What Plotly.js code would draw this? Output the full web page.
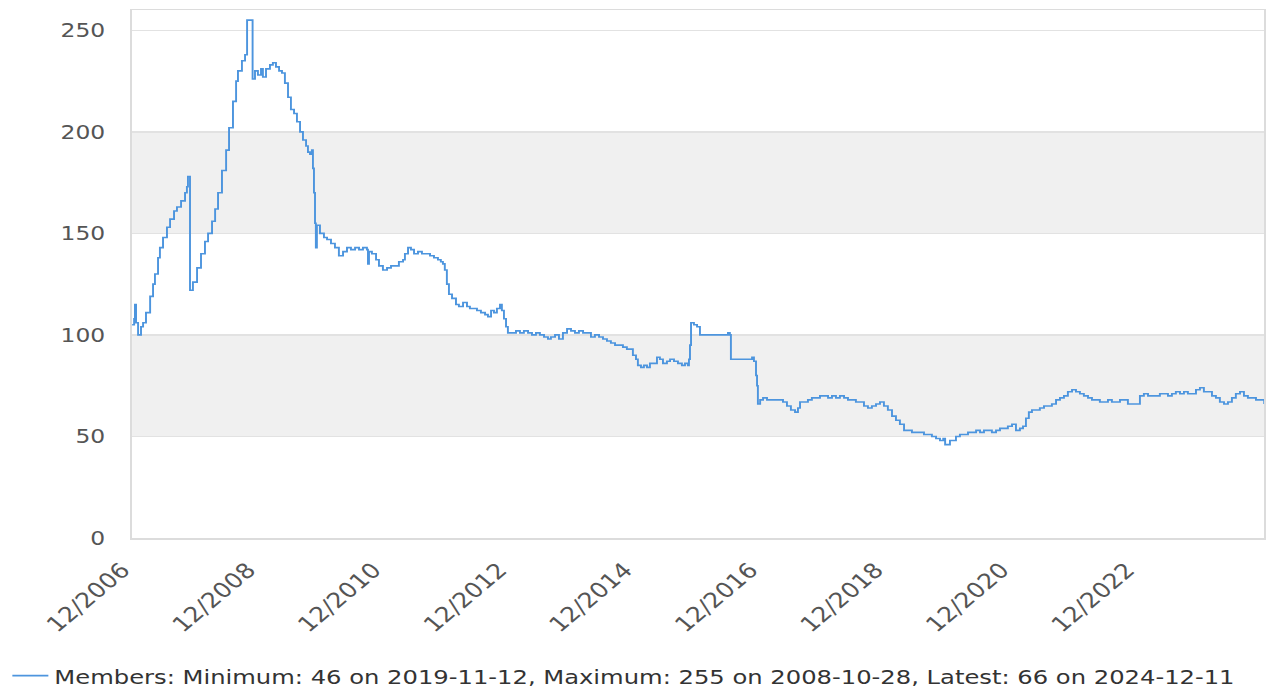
<!DOCTYPE html>
<html>
<head>
<meta charset="utf-8">
<script src="https://cdn.plot.ly/plotly-3.0.1.min.js"></script>
<style>
  html, body { margin: 0; padding: 0; background: #fff; overflow: hidden; }
  #chart { width: 1057px; height: 687px; transform: scaleX(1.2006); transform-origin: 0 0; }
</style>
</head>
<body>
<div id="chart"></div>
<script>
// Member counts
const dates = [
'2006-12-01','2006-12-13','2006-12-18','2006-12-24','2007-01-05','2007-01-10','2007-01-22','2007-02-03','2007-02-20','2007-03-16',
'2007-04-02','2007-04-13','2007-05-01','2007-05-12','2007-05-30','2007-06-22','2007-07-10','2007-08-02','2007-08-19','2007-09-12',
'2007-10-05','2007-10-16','2007-10-22','2007-10-28','2007-11-03','2007-11-20','2007-12-14','2008-01-06','2008-01-29','2008-02-16',
'2008-03-10','2008-03-28','2008-04-14','2008-05-07','2008-05-31','2008-06-17','2008-07-10','2008-07-28','2008-08-08','2008-08-31',
'2008-09-18','2008-09-30','2008-10-28','2008-11-01','2008-11-15','2008-12-02','2008-12-20','2008-12-31','2009-01-18','2009-02-10',
'2009-02-27','2009-03-17','2009-04-04','2009-04-21','2009-05-08','2009-05-26','2009-06-12','2009-06-30','2009-07-17','2009-08-04',
'2009-08-21','2009-09-08','2009-09-19','2009-10-01','2009-10-12','2009-10-18','2009-10-24','2009-10-30','2009-11-04','2009-11-10',
'2009-11-28','2009-12-21','2010-01-08','2010-01-31','2010-02-23','2010-03-18','2010-04-11','2010-05-04','2010-05-27','2010-06-20',
'2010-07-13','2010-08-05','2010-08-28','2010-09-03','2010-09-09','2010-09-26','2010-10-20','2010-11-06','2010-11-29','2010-12-23',
'2011-01-15','2011-02-07','2011-03-02','2011-03-26','2011-04-06','2011-04-24','2011-05-11','2011-05-29','2011-06-21','2011-07-14',
'2011-08-06','2011-08-30','2011-09-22','2011-10-15','2011-11-01','2011-11-13','2011-11-24','2011-12-06','2011-12-18','2012-01-05',
'2012-01-28','2012-02-14','2012-03-09','2012-04-01','2012-04-18','2012-05-12','2012-05-29','2012-06-21','2012-07-15','2012-08-01',
'2012-08-19','2012-09-05','2012-09-22','2012-10-10','2012-10-21','2012-11-02','2012-11-14','2012-11-25','2012-12-19','2013-01-11',
'2013-02-03','2013-02-26','2013-03-22','2013-04-14','2013-05-07','2013-05-30','2013-06-23','2013-07-16','2013-08-02','2013-08-26',
'2013-09-18','2013-10-11','2013-11-04','2013-11-27','2013-12-20','2014-01-12','2014-02-05','2014-02-28','2014-03-23','2014-04-15',
'2014-05-09','2014-06-01','2014-06-24','2014-07-17','2014-08-10','2014-09-02','2014-09-25','2014-10-18','2014-11-05','2014-11-22',
'2014-12-10','2014-12-21','2015-01-08','2015-01-25','2015-02-12','2015-03-01','2015-03-19','2015-04-11','2015-04-28','2015-05-16',
'2015-06-08','2015-06-26','2015-07-19','2015-08-11','2015-09-03','2015-09-21','2015-10-08','2015-10-14','2015-10-20','2015-10-26',
'2015-11-12','2015-11-30','2015-12-17','2016-01-15','2016-02-13','2016-03-13','2016-04-11','2016-05-10','2016-05-28','2016-06-08',
'2016-06-14','2016-07-08','2016-08-06','2016-09-04','2016-10-03','2016-10-15','2016-10-26','2016-11-07','2016-11-13','2016-11-18',
'2016-12-01','2016-12-18','2017-01-10','2017-02-02','2017-02-25','2017-03-21','2017-04-13','2017-05-06','2017-05-29','2017-06-22',
'2017-07-09','2017-07-21','2017-08-13','2017-09-05','2017-09-28','2017-10-22','2017-11-14','2017-12-07','2017-12-31','2018-01-23',
'2018-02-15','2018-03-10','2018-04-03','2018-04-26','2018-05-19','2018-06-11','2018-07-05','2018-07-28','2018-08-20','2018-09-12',
'2018-10-06','2018-10-29','2018-11-21','2018-12-14','2019-01-07','2019-01-30','2019-02-22','2019-03-18','2019-04-10','2019-05-03',
'2019-05-26','2019-06-19','2019-07-12','2019-08-04','2019-08-27','2019-09-20','2019-10-13','2019-11-01','2019-11-12','2019-12-10',
'2020-01-14','2020-02-06','2020-03-01','2020-03-24','2020-04-16','2020-05-10','2020-06-02','2020-06-25','2020-07-18','2020-08-10',
'2020-09-03','2020-09-26','2020-10-19','2020-11-11','2020-12-05','2020-12-28','2021-01-20','2021-02-07','2021-02-24','2021-03-13',
'2021-03-31','2021-04-23','2021-05-16','2021-06-09','2021-07-02','2021-07-25','2021-08-18','2021-09-10','2021-10-03','2021-10-26',
'2021-11-19','2021-12-12','2022-01-04','2022-01-27','2022-02-20','2022-03-15','2022-04-07','2022-04-30','2022-05-24','2022-06-16',
'2022-07-09','2022-08-01','2022-08-25','2022-09-17','2022-10-10','2022-11-03','2022-11-26','2022-12-19','2023-01-11','2023-02-04',
'2023-02-27','2023-03-22','2023-04-14','2023-05-08','2023-05-31','2023-06-23','2023-07-16','2023-08-09','2023-09-01','2023-09-24',
'2023-10-17','2023-11-10','2023-12-03','2023-12-26','2024-01-19','2024-02-11','2024-03-05','2024-03-28','2024-04-21','2024-05-14',
'2024-06-06','2024-06-29','2024-07-23','2024-08-15','2024-09-07','2024-09-30','2024-10-24','2024-11-16','2024-12-11'
];
const members = [
105,108,115,106,100,100,104,106,111,119,
125,130,138,143,148,153,157,161,163,166,
170,173,178,178,122,126,133,140,146,150,
156,162,170,181,191,202,215,225,230,235,
238,255,255,226,230,228,231,227,231,233,
234,232,230,229,224,217,211,209,205,200,
196,193,190,189,191,182,170,155,143,154,
150,148,147,145,143,139,141,143,142,143,
142,143,142,135,141,140,137,134,132,133,
134,134,136,137,140,143,142,140,141,140,
140,139,138,137,136,135,132,125,120,118,
115,114,116,114,113,113,112,111,110,109,
112,111,113,115,112,108,104,101,101,102,
101,102,101,100,101,100,99,98,99,100,
98,101,103,102,101,102,101,101,99,100,
99,98,97,96,95,95,94,93,93,90,
88,85,84,85,84,86,86,89,88,86,
87,88,87,86,85,86,85,88,95,106,
105,104,100,100,100,100,100,100,101,100,
88,88,88,88,88,89,87,80,75,66,
68,69,68,68,68,68,67,65,63,62,
64,67,67,68,69,69,70,70,69,70,
69,70,69,68,68,67,67,65,64,65,
66,67,65,63,60,58,56,53,53,52,
52,52,51,51,50,49,48,49,46,48,
50,51,51,52,52,53,52,53,53,52,
53,54,54,55,56,53,54,55,59,62,
63,63,64,65,65,66,68,69,70,72,
73,72,71,70,69,68,68,67,67,68,
67,67,68,68,66,66,66,70,71,70,
70,70,71,71,70,71,72,71,72,71,
71,73,74,72,72,70,69,67,66,67,
69,71,72,70,69,69,68,68,66
];
const seriesName = 'Members: Minimum: 46 on 2019-11-12, Maximum: 255 on 2008-10-28, Latest: 66 on 2024-12-11';
const xTickVals = ['2006-12-01','2008-12-01','2010-12-01','2012-12-01','2014-12-01','2016-12-01','2018-12-01','2020-12-01','2022-12-01'];
const xTickText = ['12/2006','12/2008','12/2010','12/2012','12/2014','12/2016','12/2018','12/2020','12/2022'];
const xRange = ['2006-12-01', '2024-12-11'];
const yTicks = [0, 50, 100, 150, 200, 250];
const bands = [[50, 100], [150, 200]];

const FONT = 'DejaVu Sans, Verdana, sans-serif';

const trace = {
  type: 'scatter',
  mode: 'lines',
  x: dates,
  y: members,
  name: seriesName,
  line: { color: '#4d95de', width: 1.6, shape: 'hv' },
  hoverinfo: 'skip'
};

const shapes = bands.map(b => ({
  type: 'rect', xref: 'paper', yref: 'y', x0: 0, x1: 1, y0: b[0], y1: b[1],
  fillcolor: '#f0f0f0', line: { width: 0 }, layer: 'below'
}));

const layout = {
  width: 1057, height: 687,
  margin: { l: 110, r: 4, t: 10, b: 149 },
  paper_bgcolor: '#ffffff',
  plot_bgcolor: '#ffffff',
  showlegend: true,
  legend: {
    orientation: 'h', xref: 'container', yref: 'container',
    x: 0.005, y: 0.016, xanchor: 'left', yanchor: 'middle',
    font: { family: FONT, size: 20.2, color: '#333' },
    bgcolor: 'rgba(0,0,0,0)'
  },
  xaxis: {
    type: 'date',
    range: xRange,
    tickmode: 'array', tickvals: xTickVals, ticktext: xTickText,
    tickangle: -45,
    ticks: 'outside', ticklen: 10, tickcolor: 'rgba(0,0,0,0)',
    ticklabelshift: -8,
    tickfont: { family: FONT, size: 21, color: '#555' },
    showgrid: false, zeroline: false,
    showline: true, mirror: true, linecolor: '#dcdcdc', linewidth: 1.5
  },
  yaxis: {
    range: [0, 260],
    tickvals: yTicks,
    ticks: 'outside', ticklen: 17, tickcolor: 'rgba(0,0,0,0)',
    tickfont: { family: FONT, size: 19.5, color: '#555' },
    showgrid: true, gridcolor: '#e2e2e2', gridwidth: 1.5,
    zeroline: false,
    showline: true, mirror: true, linecolor: '#dcdcdc', linewidth: 1.5
  },
  shapes: shapes,
  hovermode: false
};

Plotly.newPlot('chart', [trace], layout, { displayModeBar: false, staticPlot: true });
</script>
</body>
</html>
